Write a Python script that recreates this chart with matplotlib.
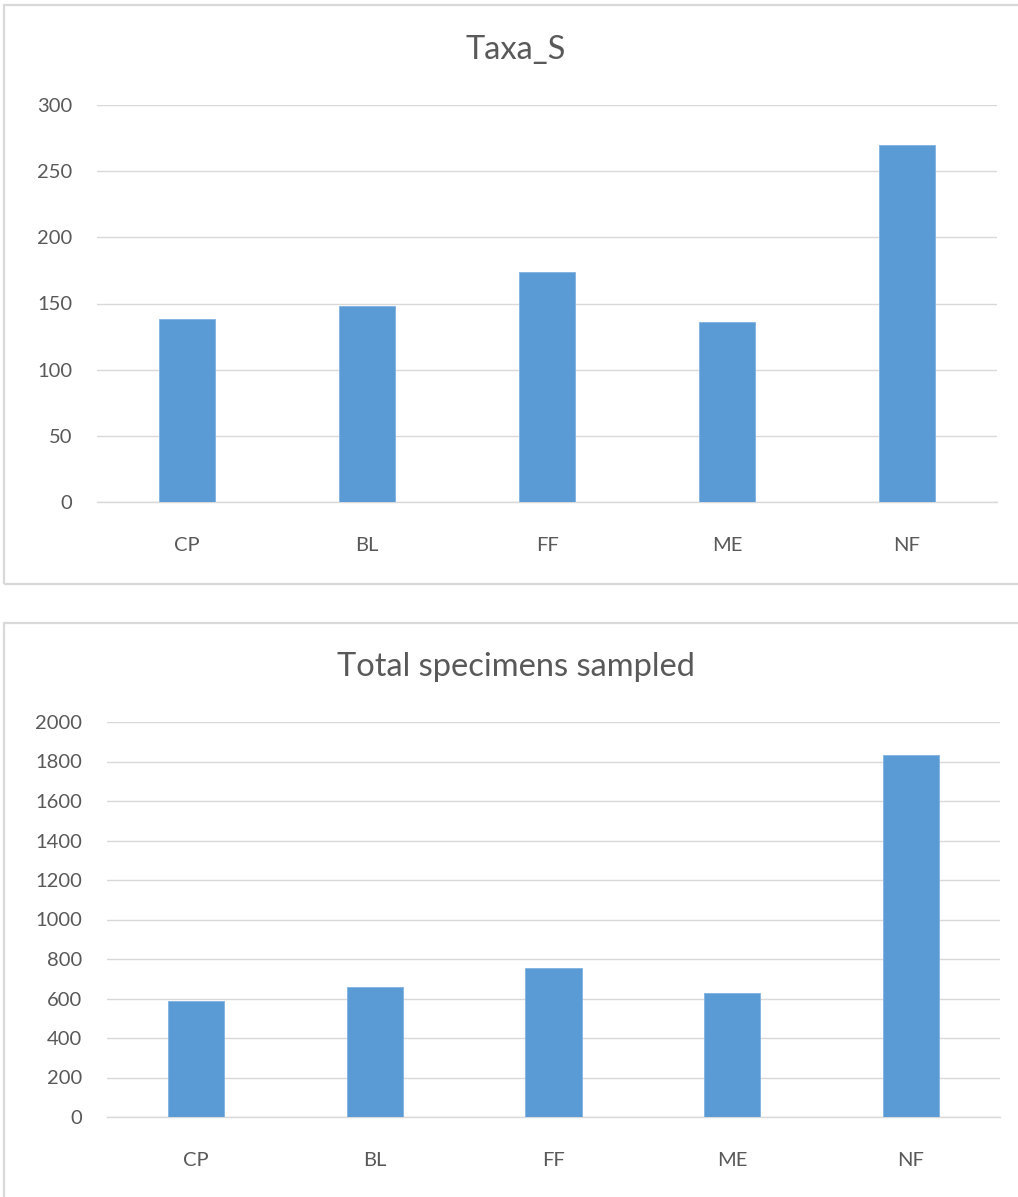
import matplotlib
matplotlib.use("Agg")
import matplotlib.pyplot as plt
from matplotlib.patches import Rectangle

# Site categories and per-site values
sites = ["CP", "BL", "FF", "ME", "NF"]
taxa_s = [138, 148, 174, 136, 270]
total_specimens = [588, 658, 756, 626, 1833]

taxa_ticks = [0, 50, 100, 150, 200, 250, 300]
spec_ticks = [0, 200, 400, 600, 800, 1000, 1200, 1400, 1600, 1800, 2000]

W, H = 1018, 1197
BAR_COLOR = "#5B9BD5"
TEXT_COLOR = "#595959"
GRID_COLOR = "#D9D9D9"
FONT = "Lato"

fig = plt.figure(figsize=(W / 100, H / 100), dpi=100)
fig.patch.set_facecolor("white")


def px_axes(x0, y0, x1, y1):
    """Create axes from pixel box (top-left origin)."""
    return fig.add_axes([x0 / W, 1 - y1 / H, (x1 - x0) / W, (y1 - y0) / H])


def frame(x0, y0, x1, y1):
    fig.patches.append(Rectangle((x0 / W, 1 - y1 / H), (x1 - x0) / W, (y1 - y0) / H,
                                 transform=fig.transFigure, fill=False,
                                 edgecolor=GRID_COLOR, linewidth=1.6))


def bar_panel(ax, values, ticks, title, title_y):
    x = range(len(sites))
    ax.bar(x, values, width=0.315, color=BAR_COLOR, edgecolor="#7FB2E0",
           linewidth=0.6, zorder=3)
    ax.set_xlim(-0.5, len(sites) - 0.5)
    ax.set_ylim(ticks[0], ticks[-1])
    ax.set_yticks(ticks)
    ax.set_yticklabels([str(t) for t in ticks], fontsize=14.5, color=TEXT_COLOR,
                       family=FONT)
    ax.set_xticks(list(x))
    ax.set_xticklabels(sites, fontsize=14.5, color=TEXT_COLOR, family=FONT)
    ax.tick_params(axis="both", length=0)
    ax.tick_params(axis="y", pad=18)
    ax.tick_params(axis="x", pad=25)
    ax.grid(axis="y", color=GRID_COLOR, linewidth=1.0, zorder=0)
    for s in ["top", "right", "left"]:
        ax.spines[s].set_visible(False)
    ax.spines["bottom"].set_color(GRID_COLOR)
    ax.spines["bottom"].set_linewidth(1.0)
    ax.set_facecolor("none")
    fig.text(516 / W, 1 - title_y / H, title, ha="center", va="center",
             fontsize=23.5, color=TEXT_COLOR, family=FONT)


frame(4, 5, W + 5, 584)
frame(4, 623, W + 5, H + 5)

ax1 = px_axes(97, 105, 997, 502)
bar_panel(ax1, taxa_s, taxa_ticks, "Taxa_S", 50)

ax2 = px_axes(107, 722, 1000, 1117)
bar_panel(ax2, total_specimens, spec_ticks, "Total specimens sampled", 667)

fig.savefig("out.png", dpi=100, facecolor="white")
